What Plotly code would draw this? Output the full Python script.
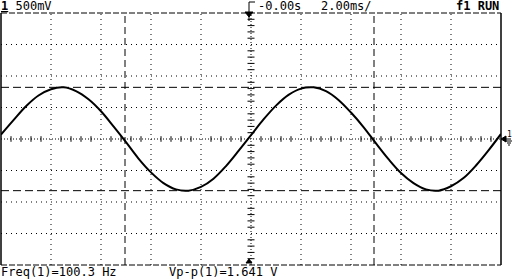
import plotly.graph_objects as go

time_ms = [-10, -9.5, -9, -8.5, -8, -7.5, -7, -6.5, -6, -5.5, -5, -4.5, -4, -3.5, -3,
           -2.5, -2, -1.5, -1, -0.5, 0, 0.5, 1, 1.5, 2, 2.5, 3, 3.5, 4, 4.5, 5, 5.5,
           6, 6.5, 7, 7.5, 8, 8.5, 9, 9.5, 10]
volts = [0.07, 0.30, 0.52, 0.69, 0.79, 0.82, 0.76, 0.63, 0.44, 0.20, -0.05, -0.31,
         -0.53, -0.70, -0.80, -0.82, -0.76, -0.63, -0.43, -0.19, 0.06, 0.31, 0.53,
         0.70, 0.80, 0.82, 0.76, 0.62, 0.42, 0.19, -0.07, -0.32, -0.54, -0.70,
         -0.80, -0.82, -0.75, -0.62, -0.42, -0.18, 0.08]
cursor_times = [-5.04, 4.92]
cursor_volts = [0.82, -0.82]
time_div = 2.0     # ms / div
volt_div = 0.5     # V / div
top_labels = ["1 500mV", "-0.00s", "2.00ms/", "f1 RUN"]
bottom_labels = ["Freq(1)=100.3 Hz", "Vp-p(1)=1.641 V"]

W, H = 512, 280
X0, X1, Y0, Y1 = 1, 501, 13, 265  # screen box in px
FONT = "DejaVu Sans Mono"


def px(x):
    return x / W


def py(y):
    return 1 - y / H


fig = go.Figure()

xr = [-5 * time_div, 5 * time_div]
yr = [-4 * volt_div, 4 * volt_div]

shapes = []
black = "#000000"
dotted = "1px,4px"

# dotted grid
for i in range(-4, 5):
    if i == 0:
        continue
    t = i * time_div
    shapes.append(dict(type="line", xref="x", yref="y", x0=t, x1=t, y0=yr[0], y1=yr[1],
                       line=dict(color=black, width=1, dash=dotted)))
for j in range(-3, 4):
    if j == 0:
        continue
    v = j * volt_div
    shapes.append(dict(type="line", xref="x", yref="y", x0=xr[0], x1=xr[1], y0=v, y1=v,
                       line=dict(color=black, width=1, dash=dotted)))
# centre axes (dotted)
shapes.append(dict(type="line", xref="x", yref="y", x0=0, x1=0, y0=yr[0], y1=yr[1],
                   line=dict(color=black, width=1, dash="1px,2px")))
shapes.append(dict(type="line", xref="x", yref="y", x0=xr[0], x1=xr[1], y0=0, y1=0,
                   line=dict(color=black, width=1, dash="1px,2px")))

# cursors (dashed)
for t in cursor_times:
    shapes.append(dict(type="line", xref="x", yref="y", x0=t, x1=t, y0=yr[0], y1=yr[1],
                       line=dict(color=black, width=1, dash="7px,4px")))
for v in cursor_volts:
    shapes.append(dict(type="line", xref="x", yref="y", x0=xr[0], x1=xr[1], y0=v, y1=v,
                       line=dict(color=black, width=1, dash="8px,4px")))

# frame: dashed top/bottom, solid sides
shapes.append(dict(type="line", xref="paper", yref="paper", x0=px(X0), x1=px(X1),
                   y0=py(Y0), y1=py(Y0), line=dict(color=black, width=1, dash="6px,2px")))
shapes.append(dict(type="line", xref="paper", yref="paper", x0=px(X0), x1=px(X1),
                   y0=py(Y1), y1=py(Y1), line=dict(color=black, width=1, dash="6px,2px")))
shapes.append(dict(type="line", xref="paper", yref="paper", x0=px(X0), x1=px(X0),
                   y0=py(Y0), y1=py(Y1), line=dict(color=black, width=1.5)))
shapes.append(dict(type="line", xref="paper", yref="paper", x0=px(X1), x1=px(X1),
                   y0=py(Y0), y1=py(Y1), line=dict(color=black, width=1.5)))

# trigger marker at top centre
shapes.append(dict(type="line", xref="paper", yref="paper", x0=px(249), x1=px(249),
                   y0=py(2), y1=py(21), line=dict(color=black, width=1)))
shapes.append(dict(type="line", xref="paper", yref="paper", x0=px(249), x1=px(255),
                   y0=py(2), y1=py(2), line=dict(color=black, width=1)))
shapes.append(dict(type="path", xref="paper", yref="paper",
                   path=f"M {px(245)},{py(12)} L {px(253)},{py(12)} L {px(249)},{py(17)} Z",
                   fillcolor=black, line=dict(color=black, width=1)))
# bottom centre marker
shapes.append(dict(type="path", xref="paper", yref="paper",
                   path=f"M {px(246)},{py(263)} L {px(252)},{py(263)} L {px(249)},{py(259)} Z",
                   fillcolor=black, line=dict(color=black, width=1)))
# right channel marker (arrow + ground)
shapes.append(dict(type="path", xref="paper", yref="paper",
                   path=f"M {px(501)},{py(139)} L {px(506)},{py(136)} L {px(506)},{py(142)} Z",
                   fillcolor=black, line=dict(color=black, width=1)))
shapes.append(dict(type="line", xref="paper", yref="paper", x0=px(506), x1=px(511),
                   y0=py(139), y1=py(139), line=dict(color=black, width=1)))
for k, (a, b) in enumerate([(506, 512), (507, 511), (508, 510)]):
    shapes.append(dict(type="line", xref="paper", yref="paper", x0=px(a), x1=px(b),
                       y0=py(141 + 2 * k), y1=py(141 + 2 * k), line=dict(color=black, width=1)))

# minor ticks on centre axes
tick_t = [i * time_div / 5 for i in range(-25, 26) if i % 5 != 0]
tick_v = [j * volt_div / 5 for j in range(-20, 21) if j % 5 != 0]
fig.add_trace(go.Scatter(x=tick_t, y=[0] * len(tick_t), mode="markers", hoverinfo="skip",
                         marker=dict(symbol="line-ns-open", size=4, color=black,
                                     line=dict(color=black, width=1))))
fig.add_trace(go.Scatter(x=[0] * len(tick_v), y=tick_v, mode="markers", hoverinfo="skip",
                         marker=dict(symbol="line-ew-open", size=5, color=black,
                                     line=dict(color=black, width=1))))

# waveform
fig.add_trace(go.Scatter(x=time_ms, y=volts, mode="lines",
                         line=dict(color=black, width=2, shape="spline", smoothing=1.0),
                         hoverinfo="skip"))

annotations = []


def txt(s, x, y, size=12, anchor="left"):
    annotations.append(dict(text=s, xref="paper", yref="paper", x=px(x), y=py(y),
                            xanchor=anchor, yanchor="middle", showarrow=False,
                            font=dict(family=FONT, size=size, color=black)))


txt("<b><u>1</u></b>" + top_labels[0][1:], -1, 6)
txt(top_labels[1], 256, 6)
txt(top_labels[2], 319, 6)
txt("<b>" + top_labels[3] + "</b>", 501, 6, anchor="right")
txt(bottom_labels[0], -1, 272)
txt(bottom_labels[1], 167, 272)
txt("1", 509, 134, size=8, anchor="center")

fig.update_layout(
    width=W, height=H, margin=dict(l=0, r=0, t=0, b=0),
    paper_bgcolor="white", plot_bgcolor="white", showlegend=False,
    xaxis=dict(range=xr, domain=[px(X0), px(X1)], showgrid=False, zeroline=False,
               showticklabels=False, ticks="", fixedrange=True),
    yaxis=dict(range=yr, domain=[py(Y1), py(Y0)], showgrid=False, zeroline=False,
               showticklabels=False, ticks="", fixedrange=True),
    shapes=shapes, annotations=annotations,
)

fig.write_html("out.html")
